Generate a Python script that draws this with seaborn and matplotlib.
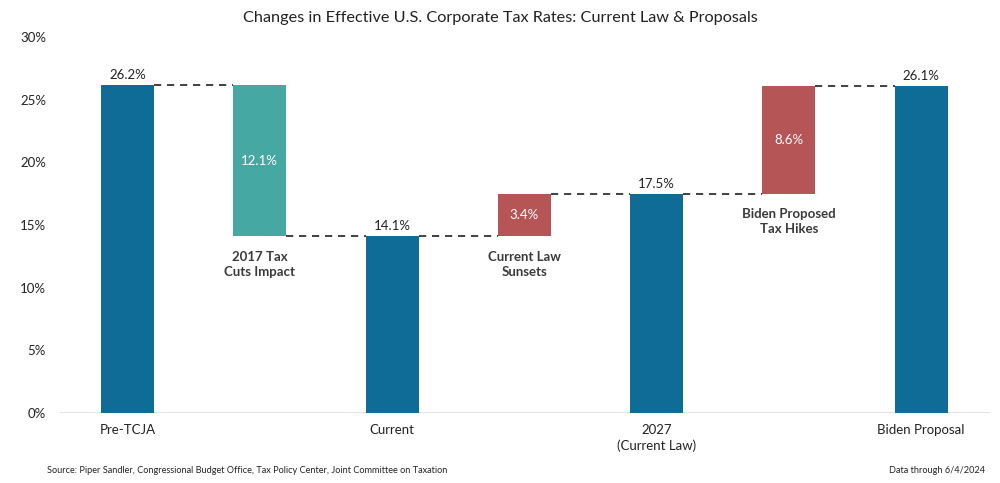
import numpy as np
import pandas as pd
import matplotlib
matplotlib.use("Agg")
import matplotlib.pyplot as plt
import seaborn as sns

# ---- data ----
steps = ["Pre-TCJA", "2017 Tax Cuts Impact", "Current", "Current Law Sunsets",
         "2027 (Current Law)", "Biden Proposed Tax Hikes", "Biden Proposal"]
kinds = ["total", "delta", "total", "delta", "total", "delta", "total"]
values = [26.2, -12.1, 14.1, 3.4, 17.5, 8.6, 26.1]
tick_labels = ["Pre-TCJA", "", "Current", "", "2027\n(Current Law)", "", "Biden Proposal"]
delta_labels = ["", "2017 Tax\nCuts Impact", "", "Current Law\nSunsets", "", "Biden Proposed\nTax Hikes", ""]
yticks = [0, 5, 10, 15, 20, 25, 30]

BLUE = "#0f6c96"
TEAL = "#45a8a2"
RED = "#b55556"

sns.set_theme(style="white")
plt.rcParams["font.family"] = ["Lato", "DejaVu Sans"]

# compute waterfall bottoms / heights
bottoms, heights, colors = [], [], []
level = 0.0
for k, v in zip(kinds, values):
    if k == "total":
        bottoms.append(0.0)
        heights.append(v)
        colors.append(BLUE)
        level = v
    else:
        if v < 0:
            bottoms.append(level + v)
            heights.append(-v)
            colors.append(TEAL)
        else:
            bottoms.append(level)
            heights.append(v)
            colors.append(RED)
        level = level + v

df = pd.DataFrame({"step": steps, "height": heights, "bottom": bottoms})

fig = plt.figure(figsize=(10, 4.83), dpi=100)
ax = fig.add_axes([0.06, 0.145, 0.93, 0.778])

sns.barplot(data=df, x="step", y="height", order=steps, bottom=df["bottom"].values,
            width=0.4, color=BLUE, ax=ax, errorbar=None, saturation=1,
            edgecolor="none", linewidth=0, zorder=3)
for p, c in zip(ax.patches, colors):
    p.set_facecolor(c)

ax.set_xlim(-0.51, 6.52)
ax.set_ylim(0, 30)
ax.set_yticks(yticks)
ax.set_yticklabels([f"{t}%" for t in yticks], fontsize=9.5, color="#222222")
ax.set_xticks(range(len(steps)))
ax.set_xticklabels(tick_labels, fontsize=9.5, color="#222222", linespacing=1.3)
ax.tick_params(axis="x", length=0, pad=8)
ax.tick_params(axis="y", length=0, pad=10)
ax.set_xlabel("")
ax.set_ylabel("")
for s in ["top", "right", "left", "bottom"]:
    ax.spines[s].set_visible(False)
ax.axhline(0, color="#dddddd", lw=1.2, zorder=2)

# connectors
w = 0.4
tops = [b + h for b, h in zip(bottoms, heights)]
for i in range(len(steps) - 1):
    if kinds[i] == "total":
        lev = values[i]
    else:
        lev = bottoms[i] if values[i] < 0 else tops[i]
    ax.hlines(lev, i + w / 2, i + 1 - w / 2, colors="#333333", lw=1.3,
              linestyles=(0, (4, 3.2)), zorder=4)

# labels
for i, (k, v) in enumerate(zip(kinds, values)):
    if k == "total":
        ax.annotate(f"{v:.1f}%", (i, v), xytext=(0, 3), textcoords="offset points",
                    ha="center", va="bottom", fontsize=9.5, color="#222222")
    else:
        ax.text(i, bottoms[i] + heights[i] / 2, f"{abs(v):.1f}%", ha="center",
                va="center", fontsize=9.5, color="white", zorder=5)
        ax.annotate(delta_labels[i], (i, bottoms[i]), xytext=(0, -10.5),
                    textcoords="offset points", ha="center", va="top",
                    fontsize=9.5, fontweight="bold", color="#3a3a3a",
                    linespacing=1.3)

fig.text(0.5, 0.962, "Changes in Effective U.S. Corporate Tax Rates: Current Law & Proposals",
         ha="center", va="center", fontsize=11.7, color="#222222")
fig.text(0.047, 0.025, "Source: Piper Sandler, Congressional Budget Office, Tax Policy Center, Joint Committee on Taxation",
         ha="left", va="center", fontsize=6.6, color="#222222")
fig.text(0.985, 0.025, "Data through 6/4/2024", ha="right", va="center",
         fontsize=6.6, color="#222222")

fig.savefig("out.png", dpi=100, facecolor="white")
